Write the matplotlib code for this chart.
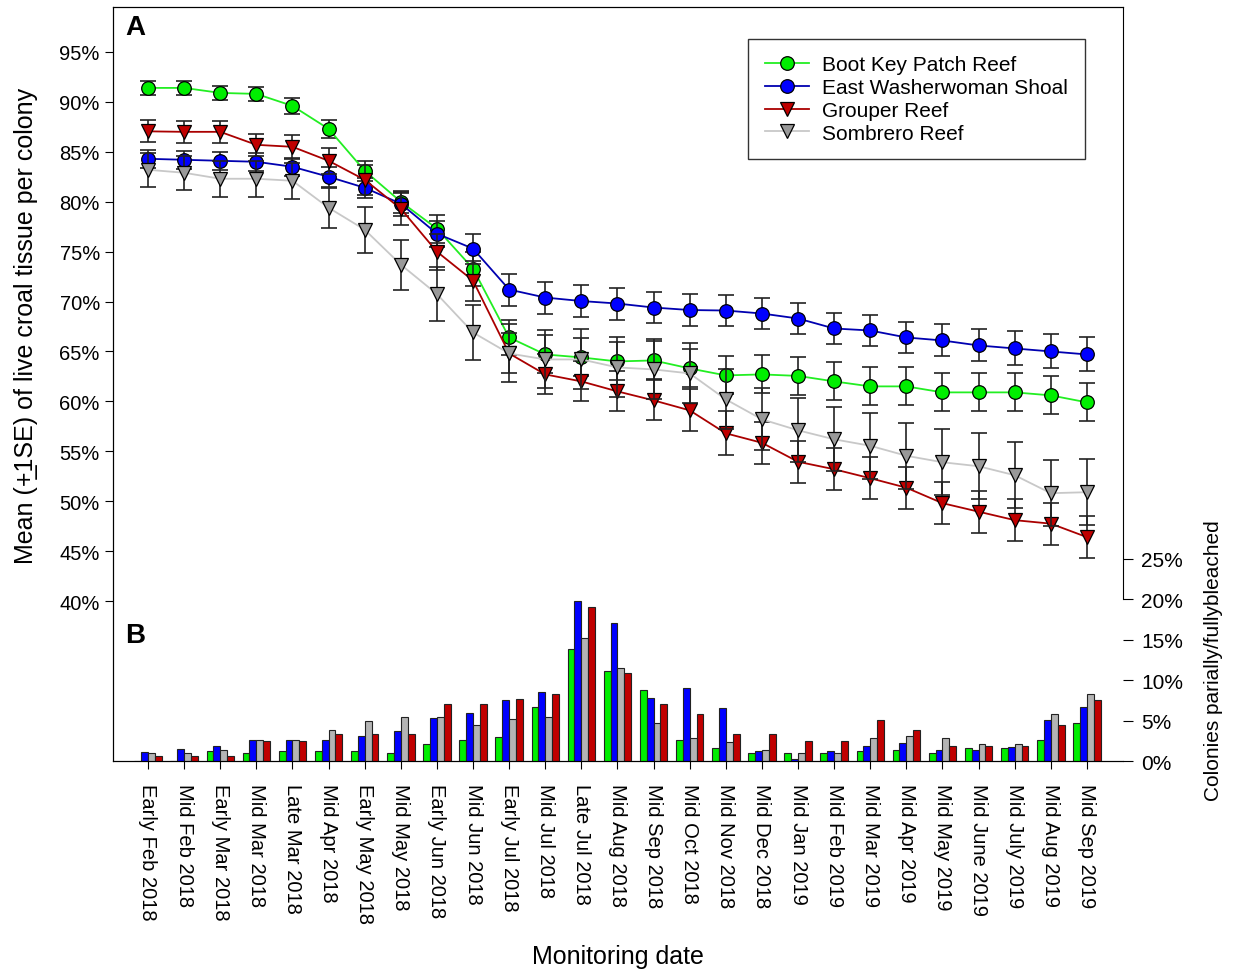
import numpy as np
import matplotlib
matplotlib.use('Agg')
import matplotlib.pyplot as plt
from matplotlib.ticker import FuncFormatter

plt.rcParams['font.family'] = ['Liberation Sans', 'DejaVu Sans']

############### Data ###############
dates = ['Early Feb 2018', 'Mid Feb 2018', 'Early Mar 2018', 'Mid Mar 2018', 'Late Mar 2018',
         'Mid Apr 2018', 'Early May 2018', 'Mid May 2018', 'Early Jun 2018', 'Mid Jun 2018',
         'Early Jul 2018', 'Mid Jul 2018', 'Late Jul 2018', 'Mid Aug 2018', 'Mid Sep 2018',
         'Mid Oct 2018', 'Mid Nov 2018', 'Mid Dec 2018', 'Mid Jan 2019', 'Mid Feb 2019',
         'Mid Mar 2019', 'Mid Apr 2019', 'Mid May 2019', 'Mid June 2019', 'Mid July 2019',
         'Mid Aug 2019', 'Mid Sep 2019']

reefs = ['Boot Key Patch Reef', 'East Washerwoman Shoal', 'Grouper Reef', 'Sombrero Reef']

# mean live tissue (%)
boot_key = [91.4, 91.4, 90.9, 90.8, 89.6, 87.3, 83.1, 80.0, 77.3, 73.3, 66.4, 64.7, 64.4, 64.0,
            64.1, 63.3, 62.6, 62.7, 62.55, 62.0, 61.5, 61.5, 60.9, 60.9, 60.9, 60.6, 59.9]
east_wash = [84.3, 84.2, 84.1, 84.0, 83.5, 82.5, 81.4, 79.8, 76.8, 75.3, 71.2, 70.4, 70.05, 69.8,
             69.4, 69.15, 69.1, 68.8, 68.3, 67.3, 67.1, 66.4, 66.1, 65.6, 65.3, 65.0, 64.7]
grouper = [87.05, 87.0, 87.0, 85.7, 85.5, 84.1, 82.2, 79.3, 75.0, 72.1, 64.8, 62.7, 62.0, 61.0,
           60.1, 59.1, 56.8, 55.85, 53.95, 53.2, 52.3, 51.35, 49.8, 48.95, 48.1, 47.75, 46.4]
sombrero = [83.2, 82.9, 82.3, 82.3, 82.1, 79.4, 77.2, 73.7, 70.75, 66.9, 64.8, 64.2, 64.2, 63.4,
            63.2, 62.8, 60.2, 58.2, 57.1, 56.2, 55.55, 54.55, 53.9, 53.5, 52.6, 50.8, 50.9]

# standard errors (%)
boot_key_se = [0.7, 0.7, 0.7, 0.7, 0.8, 0.9, 1.0, 1.1, 1.4, 1.7, 1.8, 1.9, 1.9, 1.9, 1.9, 1.9,
               1.9, 1.9, 1.9, 1.9, 1.9, 1.9, 1.9, 1.9, 1.9, 1.9, 1.9]
east_wash_se = [0.9, 0.9, 0.9, 0.9, 0.9, 1.0, 1.0, 1.2, 1.3, 1.5, 1.6, 1.6, 1.6, 1.6, 1.6, 1.6,
                1.6, 1.6, 1.6, 1.6, 1.6, 1.6, 1.6, 1.6, 1.7, 1.7, 1.7]
grouper_se = [1.1, 1.1, 1.1, 1.1, 1.2, 1.3, 1.5, 1.6, 1.8, 2.0, 2.0, 2.0, 2.0, 2.0, 2.0, 2.1,
              2.2, 2.1, 2.1, 2.1, 2.1, 2.1, 2.1, 2.1, 2.1, 2.1, 2.1]
sombrero_se = [1.7, 1.7, 1.8, 1.8, 1.8, 2.0, 2.3, 2.5, 2.7, 2.8, 2.9, 2.9, 3.0, 3.0, 3.0, 3.0,
               3.0, 3.1, 3.2, 3.2, 3.3, 3.3, 3.3, 3.3, 3.3, 3.3, 3.3]

# colonies partially/fully bleached (%)
boot_key_bl = [0, 0, 1.2, 1.0, 1.2, 1.2, 1.2, 0.95, 2.15, 2.6, 3.0, 6.65, 13.9, 11.2, 8.8, 2.6,
               1.6, 0.95, 0.95, 0.95, 1.2, 1.4, 0.95, 1.6, 1.6, 2.6, 4.75]
east_wash_bl = [1.07, 1.5, 1.9, 2.6, 2.6, 2.6, 3.1, 3.7, 5.3, 6.0, 7.5, 8.6, 19.8, 17.1, 7.8, 9.0,
                6.6, 1.2, 0.2, 1.2, 1.9, 2.2, 1.4, 1.4, 1.7, 5.1, 6.7]
sombrero_bl = [1.0, 0.95, 1.4, 2.6, 2.6, 3.8, 4.9, 5.5, 5.5, 4.4, 5.2, 5.5, 15.2, 11.5, 4.7, 2.9,
               2.3, 1.4, 0.95, 0.95, 2.9, 3.1, 2.9, 2.1, 2.1, 5.8, 8.3]
grouper_bl = [0.6, 0.6, 0.6, 2.5, 2.5, 3.3, 3.3, 3.3, 7.1, 7.1, 7.7, 8.3, 19.1, 10.9, 7.1, 5.8,
              3.3, 3.3, 2.5, 2.5, 5.1, 3.8, 1.9, 1.9, 1.9, 4.5, 7.5]

############### Figure ###############
fig = plt.figure(figsize=(12.36, 9.70), dpi=100)
axA = fig.add_axes([0.0914, 0.2144, 0.8172, 0.7774])
axB = axA.twinx()

x = np.arange(len(dates))

series = [
    (boot_key, boot_key_se, '#22ee22', '#00ee00', 'o', reefs[0]),
    (east_wash, east_wash_se, '#0000b0', '#0000ff', 'o', reefs[1]),
    (grouper, grouper_se, '#aa0000', '#c00000', 'v', reefs[2]),
    (sombrero, sombrero_se, '#c8c8c8', '#999999', 'v', reefs[3]),
]

handles = []
for i, (vals, se, lc, mc, mk, name) in enumerate(series):
    z = 3 + i
    axA.errorbar(x, vals, yerr=se, fmt='none', ecolor='#222222', elinewidth=1.2,
                 capsize=5.8, capthick=1.2, zorder=z)
    h, = axA.plot(x, vals, color=lc, lw=1.3, marker=mk, markersize=9.8,
                  markerfacecolor=mc, markeredgecolor='black', markeredgewidth=0.9,
                  zorder=z + 0.5, label=name)
    handles.append(h)

axA.set_xlim(-0.97, 27.0)
axA.set_ylim(23.97, 99.51)
axA.set_yticks(np.arange(40, 96, 5))
axA.yaxis.set_major_formatter(FuncFormatter(lambda v, p: '%d%%' % v))
axA.set_xticks(x)
axA.set_xticklabels(dates, rotation=270, fontsize=14.5, va='top', ha='center')
axA.tick_params(axis='y', labelsize=14.5, length=6, direction='out')
axA.tick_params(axis='x', length=6, direction='out', pad=10)
axA.set_ylabel('Mean (+\u03321SE) of live croal tissue per colony', fontsize=18)
axA.yaxis.set_label_coords(-0.074, 0.578)
axA.set_xlabel('Monitoring date', fontsize=18)
axA.xaxis.set_label_coords(0.5, -0.2586)
axA.xaxis.label.set_va('center')
axA.spines['right'].set_visible(False)

leg = axA.legend(handles=handles, loc='upper right', bbox_to_anchor=(0.962, 0.958),
                 fontsize=15, frameon=True, fancybox=False, edgecolor='black',
                 handlelength=2.1, handletextpad=0.65, labelspacing=0.18,
                 borderpad=0.8, borderaxespad=0)
leg.get_frame().set_linewidth(1.0)

############### Bars ###############
w = 0.19
bar_sets = [(boot_key_bl, '#00ee00'), (east_wash_bl, '#0000ff'),
            (sombrero_bl, '#b4b4b4'), (grouper_bl, '#c00000')]
for k, (vals, col) in enumerate(bar_sets):
    axB.bar(x + (k - 1.5) * w, vals, width=w, color=col, edgecolor='#222222', linewidth=0.8)

axB.set_ylim(0, 93.3)
axB.set_yticks(np.arange(0, 26, 5))
axB.yaxis.set_major_formatter(FuncFormatter(lambda v, p: '%d%%' % v))
axB.tick_params(axis='y', labelsize=15, length=7, direction='out', pad=6)
axB.spines['right'].set_bounds(20, 93.3)
axB.set_ylabel('Colonies parially/fullybleached', fontsize=15)
axB.yaxis.set_label_coords(1.080, 0.134)

############### Panel labels ###############
axA.text(0.012, 0.99, 'A', transform=axA.transAxes, fontsize=20, fontweight='bold', va='top')
axA.text(0.012, 0.185, 'B', transform=axA.transAxes, fontsize=20, fontweight='bold', va='top')

fig.savefig('out.png', dpi=100)
